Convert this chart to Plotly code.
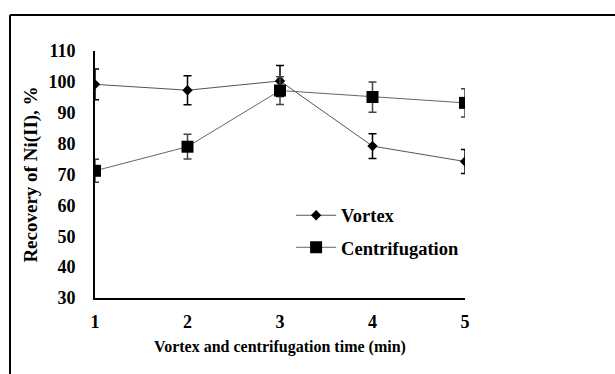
import plotly.graph_objects as go

time_min = [1, 2, 3, 4, 5]
vortex = [99.2, 97.3, 100.3, 79.2, 74.2]
vortex_err = [5.0, 4.7, 5.0, 4.0, 3.9]
centrif = [71.2, 79.0, 97.2, 95.1, 93.2]
centrif_err = [3.7, 4.0, 4.5, 4.9, 4.6]
y_ticks = [30, 40, 50, 60, 70, 80, 90, 100, 110]

def F(size):
    return dict(family="Liberation Serif", size=size, color="black", weight="bold")

fig = go.Figure()
fig.add_trace(go.Scatter(
    x=time_min, y=vortex, name="Vortex", mode="lines+markers",
    line=dict(color="#555555", width=1),
    marker=dict(symbol="diamond", size=8, color="black"),
    error_y=dict(type="data", array=vortex_err, visible=True, color="black", thickness=1.5, width=4),
    legendgroup="a",
))
fig.add_trace(go.Scatter(
    x=time_min, y=centrif, name="Centrifugation", mode="lines+markers",
    line=dict(color="#666666", width=1),
    marker=dict(symbol="square", size=12, color="black"),
    error_y=dict(type="data", array=centrif_err, visible=True, color="#444444", thickness=1.5, width=4),
    legendgroup="b",
))

fig.update_layout(
    width=615, height=374,
    margin=dict(l=95, r=150, t=51, b=76),
    paper_bgcolor="white", plot_bgcolor="white",
    font=F(17),
    showlegend=True,
    legend=dict(x=0.53, y=0.41, xanchor="left", yanchor="top",
                bgcolor="rgba(0,0,0,0)", font=F(18.5), tracegroupgap=5,
                itemwidth=40),
    xaxis=dict(range=[1, 5], tickvals=time_min, showline=True, linecolor="black",
               linewidth=2, showgrid=False, zeroline=False, ticks="",
               ticklabelstandoff=6, tickfont=F(18),
               title=dict(text="Vortex and centrifugation time (min)", font=F(16), standoff=10)),
    yaxis=dict(range=[30, 110], tickvals=y_ticks, showline=True, linecolor="black",
               linewidth=2, showgrid=False, zeroline=False, ticks="",
               ticklabelstandoff=14, tickfont=F(18),
               title=dict(text="Recovery of Ni(II), %", font=F(19), standoff=6)),
    shapes=[
        dict(type="line", xref="paper", yref="paper", x0=-0.2297, x1=1.6, y0=1.1457, y1=1.1457,
             line=dict(color="black", width=2)),
        dict(type="line", xref="paper", yref="paper", x0=-0.2297, x1=-0.2297, y0=1.1457, y1=-0.5,
             line=dict(color="black", width=2)),
    ],
)

fig.write_html("out.html")
